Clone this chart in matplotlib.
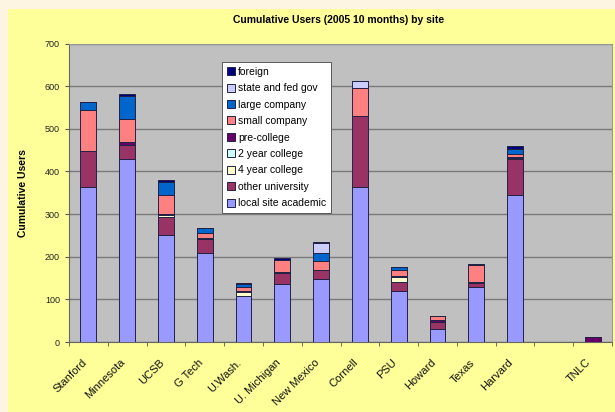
import matplotlib
matplotlib.use("Agg")
import matplotlib.pyplot as plt
import matplotlib.transforms as mtransforms
import numpy as np

plt.rcParams['font.family'] = ['Liberation Sans', 'DejaVu Sans']

sites = ["Stanford", "Minnesota", "UCSB", "G Tech", "U.Wash.", "U. Michigan",
         "New Mexico", "Cornell", "PSU", "Howard", "Texas", "Harvard", "", "TNLC"]

series_names = ["local site academic", "other university", "4 year college",
                "2 year college", "pre-college", "small company",
                "large company", "state and fed gov", "foreign"]

local_site_academic = [363, 430, 252, 209, 109, 137, 147, 363, 120, 31, 130, 345, 0, 0]
other_university    = [86, 33, 41, 33, 0, 25, 21, 166, 21, 17, 9, 84, 0, 0]
four_year_college   = [0, 0, 4, 0, 8, 0, 0, 0, 11, 0, 0, 2, 0, 0]
two_year_college    = [0, 0, 4, 0, 2, 0, 0, 0, 0, 0, 2, 0, 0, 0]
pre_college         = [0, 7, 0, 2, 0, 3, 2, 2, 2, 3, 0, 3, 0, 11]
small_company       = [94, 53, 43, 12, 11, 28, 21, 65, 16, 9, 39, 7, 0, 0]
large_company       = [20, 55, 31, 11, 5, 0, 18, 0, 7, 0, 0, 12, 0, 0]
state_and_fed_gov   = [0, 0, 0, 0, 0, 0, 23, 16, 0, 0, 0, 0, 0, 0]
foreign             = [0, 3, 6, 1, 3, 5, 3, 0, 0, 2, 3, 6, 0, 0]

series = [local_site_academic, other_university, four_year_college, two_year_college,
          pre_college, small_company, large_company, state_and_fed_gov, foreign]
colors = ["#9999FF", "#993366", "#FFFFCC", "#CCFFFF", "#660066",
          "#FF8080", "#0066CC", "#CCCCFF", "#000080"]

fig = plt.figure(figsize=(6.15, 4.12), dpi=100)
fig.patch.set_facecolor("#FDF5E1")

bg = fig.add_axes([8/615, 0, 1 - 8/615, 1 - 9/412], zorder=-5)
bg.set_facecolor("#FFFF99")
bg.set_xticks([])
bg.set_yticks([])
for s in bg.spines.values():
    s.set_visible(False)

ax = fig.add_axes([69/615, 70/412, 543/615, 298.5/412], zorder=1)
ax.set_facecolor("#C0C0C0")

x = np.arange(len(sites))
bottom = np.zeros(len(sites))
handles = []
for name, vals, c in zip(series_names, series, colors):
    vals = np.array(vals, dtype=float)
    b = ax.bar(x, vals, 0.41, bottom=bottom, color=c, edgecolor="#222244",
               linewidth=0.7, label=name, zorder=3)
    handles.append(b)
    bottom += vals

ax.set_xlim(-0.5, len(sites) - 0.5)
ax.set_ylim(0, 700)
ax.set_yticks(range(0, 701, 100))
ax.yaxis.grid(True, color="#7a7a7a", linewidth=1.0, zorder=1)
ax.set_axisbelow(True)

ax.set_xticks(x)
ax.set_xticklabels(sites, rotation=45, ha="right", va="top", rotation_mode="anchor",
                   fontsize=8, color="#111111")
ax.tick_params(axis="x", length=0, pad=11)
shift = mtransforms.ScaledTranslation(-7/100, 0, fig.dpi_scale_trans)
for lbl in ax.get_xticklabels():
    lbl.set_transform(lbl.get_transform() + shift)
ax.set_xticks(np.arange(-0.5, len(sites), 1.0), minor=True)
ax.tick_params(axis="x", which="minor", length=3, direction="out", color="#555555")
ax.tick_params(axis="y", labelsize=6.5, length=3, direction="out", color="#555555",
               labelcolor="#222222")

for s in ["top", "right"]:
    ax.spines[s].set_color("#999999")
    ax.spines[s].set_linewidth(0.8)
ax.spines["left"].set_color("#666666")
ax.spines["bottom"].set_color("#666666")

ax.set_ylabel("Cumulative Users", fontsize=7.5, fontweight="bold", labelpad=12)
fig.text(0.55, 1 - 20/412, "Cumulative Users (2005 10 months) by site",
         ha="center", va="center", fontsize=7.5, fontweight="bold")

leg = ax.legend(handles[::-1], series_names[::-1], loc="upper left",
                bbox_to_anchor=((222 - 69) / 543, (342 - 62) / 298.5),
                fontsize=7.5, frameon=True, fancybox=False, framealpha=1,
                edgecolor="#444444", handlelength=0.8, handleheight=0.8,
                handletextpad=0.3, labelspacing=0.62, borderpad=0.45,
                borderaxespad=0)
leg.get_frame().set_linewidth(0.6)

fig.savefig("out.png", dpi=100, facecolor=fig.get_facecolor())
